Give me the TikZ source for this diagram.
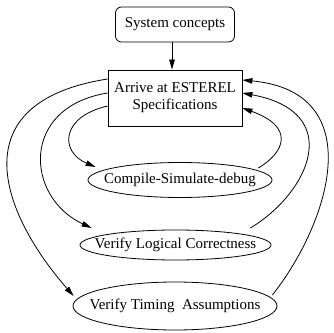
\documentclass[tikz,border=0pt]{standalone}
\usepackage{fontspec}
\setmainfont{Liberation Serif}
\usetikzlibrary{shapes.geometric,arrows.meta,calc}

\tikzset{
  base/.style={draw, line width=0.8pt, inner sep=0pt, font=\fontsize{15}{17}\selectfont},
  roundbox/.style={base, rectangle, rounded corners=6pt},
  specbox/.style={base, rectangle, align=center},
  stage/.style={base, ellipse},
  flow/.style={line width=0.8pt, -{Triangle[length=10pt,width=5.5pt]}}
}
% ellipse text is set in a zero-width box so the given size is kept
\newcommand{\stagetext}[1]{\makebox[0pt]{#1}}

\begin{document}
\begin{tikzpicture}[x=1pt, y=1pt]
  \useasboundingbox (0,0) rectangle (334,332);

  \node[roundbox, minimum width=119pt, minimum height=35pt] (sys) at (175,307.5) {System concepts};
  \node[specbox, minimum width=134pt, minimum height=56pt] (arrive) at (175,234)
    {Arrive at ESTEREL\\ Specifications};
  \node[stage, minimum width=184pt, minimum height=35pt] (compile) at (180,152)
    {\stagetext{Compile-Simulate-debug}};
  \node[stage, minimum width=191pt, minimum height=30pt] (logical) at (175.5,87)
    {\stagetext{Verify Logical Correctness}};
  \node[stage, minimum width=204pt, minimum height=48pt] (timing) at (175,26)
    {\stagetext{Verify Timing\ \ Assumptions}};

  % top-down step
  \draw[flow] ([xshift=-3pt]sys.south) -- ([xshift=-3pt]arrive.north);

  % from the specification down to each activity
  \draw[flow] ($(arrive.west)+(0,19)$) .. controls (-40,230) and (0,120) .. ($(timing.west)+(1,10)$);
  \draw[flow] ($(arrive.west)+(0,5)$) .. controls (20,225) and (25,135) .. ($(logical.west)+(12,17)$);
  \draw[flow] ($(arrive.west)+(0,-8)$) .. controls (60,215) and (60,180) .. ($(compile.west)+(8,13)$);

  % feedback from each activity to the specification
  \draw[flow] ($(compile.east)+(-14,12)$) .. controls (285,180) and (295,205) .. ($(arrive.east)+(0,-10)$);
  \draw[flow] ($(logical.east)+(-21,17)$) .. controls (310,140) and (345,220) .. ($(arrive.east)+(0,5)$);
  \draw[flow] ($(timing.east)+(-5,11)$) .. controls (330,110) and (370,240) .. ($(arrive.east)+(0,18)$);
\end{tikzpicture}
\end{document}
